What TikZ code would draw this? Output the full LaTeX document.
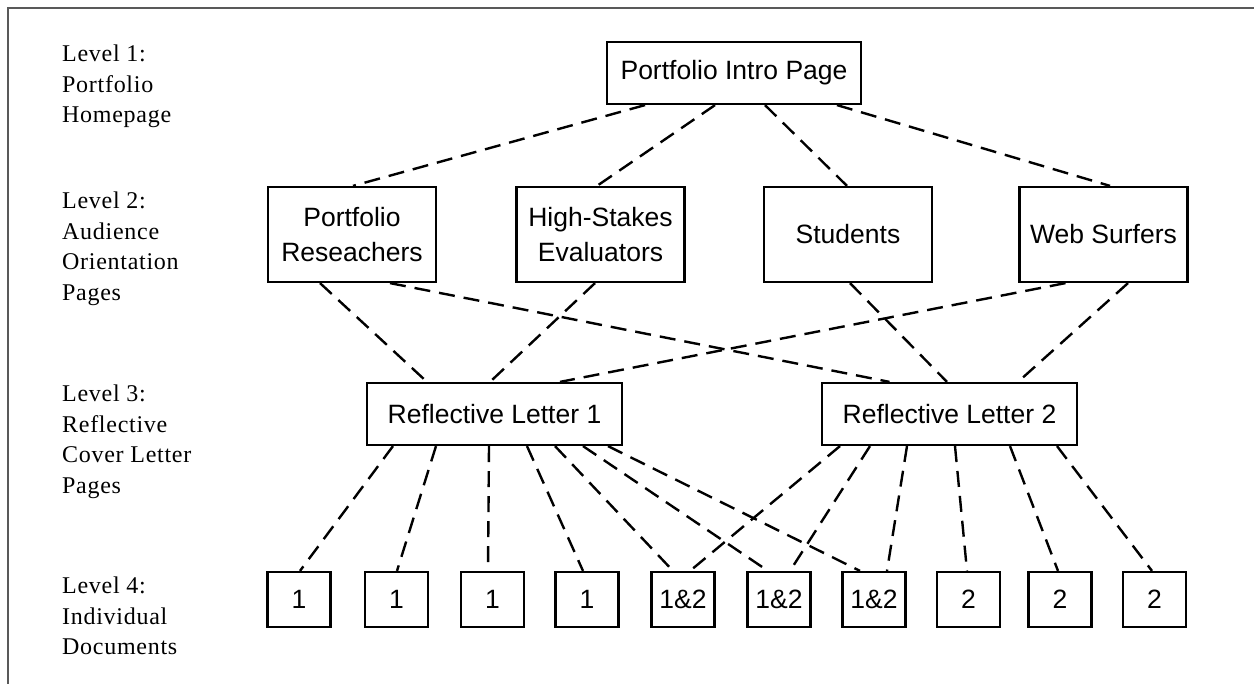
\documentclass[tikz,border=0pt]{standalone}
\usepackage{fontspec}
\setmainfont{Liberation Serif}
\newfontfamily\nodefont{Liberation Sans}
\begin{document}
\begin{tikzpicture}[x=1pt,y=-1pt,
  box/.style={draw, line width=2.2pt, inner sep=0pt, align=center,
    font=\nodefont\fontsize{26.5}{35}\selectfont},
  big/.style={box, minimum height=62pt},
  mid/.style={box, minimum width=168pt, minimum height=95pt},
  doc/.style={box, minimum width=63pt, minimum height=55pt},
  conn/.style={line width=2.4pt, dash pattern=on 16pt off 9pt},
  lvl/.style={anchor=north west, inner sep=0pt, align=left,
    font=\fontsize{24}{30.5}\selectfont\addfontfeature{LetterSpace=3}}]
\useasboundingbox (0,0) rectangle (1254,684);
\draw[black!65, line width=2pt] (8,684) -- (8,8) -- (1254,8);

% level labels
\node[lvl] (l1) at (62,45) {Level 1:\\Portfolio\\Homepage};
\node[lvl] (l2) at (62,192) {Level 2:\\Audience\\Orientation\\Pages};
\node[lvl] (l3) at (62,385) {Level 3:\\Reflective\\Cover Letter\\Pages};
\node[lvl] (l4) at (62,577) {Level 4:\\Individual\\Documents};

% level 1
\node[big, minimum width=254pt] (intro) at (734,73) {Portfolio Intro Page};
% level 2
\node[mid] (pr) at (352,234.5) {Portfolio\\Reseachers};
\node[mid] (hs) at (600.5,234.5) {High-Stakes\\Evaluators};
\node[mid] (st) at (848,234.5) {Students};
\node[mid] (ws) at (1103.5,234.5) {Web Surfers};
% level 3
\node[big, minimum width=255pt] (rl1) at (494.5,414) {Reflective Letter 1};
\node[big, minimum width=255pt] (rl2) at (949.5,414) {Reflective Letter 2};
% level 4
\node[doc] (d1) at (299,599.5) {1};
\node[doc] (d2) at (396.5,599.5) {1};
\node[doc] (d3) at (492.5,599.5) {1};
\node[doc] (d4) at (587,599.5) {1};
\node[doc] (d5) at (683,599.5) {1\&2};
\node[doc] (d6) at (779,599.5) {1\&2};
\node[doc] (d7) at (874,599.5) {1\&2};
\node[doc] (d8) at (968.5,599.5) {2};
\node[doc] (d9) at (1060,599.5) {2};
\node[doc] (d10) at (1154.5,599.5) {2};

% level 1 -> 2
\draw[conn] ([xshift=-89pt]intro.south) -- ([xshift=1pt]pr.north);
\draw[conn] ([xshift=-19pt]intro.south) -- ([xshift=-3.5pt]hs.north);
\draw[conn] ([xshift=31pt]intro.south) -- ([xshift=-1pt]st.north);
\draw[conn] ([xshift=103pt]intro.south) -- ([xshift=6.5pt]ws.north);

% level 2 -> 3
\draw[conn] ([xshift=-32pt]pr.south) -- ([xshift=-67.5pt]rl1.north);
\draw[conn] ([xshift=38pt]pr.south) -- ([xshift=-60pt]rl2.north);
\draw[conn] ([xshift=-5.5pt]hs.south) -- ([xshift=-4.5pt]rl1.north);
\draw[conn] ([xshift=2pt]st.south) -- ([xshift=-2.5pt]rl2.north);
\draw[conn] ([xshift=-38pt]ws.south) -- ([xshift=65.5pt]rl1.north);
\draw[conn] ([xshift=24.5pt]ws.south) -- ([xshift=68.5pt]rl2.north);

% level 3 -> 4
\draw[conn] ([xshift=-101.5pt]rl1.south) -- ([xshift=1pt]d1.north);
\draw[conn] ([xshift=-58.5pt]rl1.south) -- ([xshift=0.5pt]d2.north);
\draw[conn] ([xshift=-5.5pt]rl1.south) -- ([xshift=-4.5pt]d3.north);
\draw[conn] ([xshift=32.5pt]rl1.south) -- ([xshift=-4pt]d4.north);
\draw[conn] ([xshift=60.5pt]rl1.south) -- ([xshift=-10pt]d5.north);
\draw[conn] ([xshift=88.5pt]rl1.south) -- ([xshift=-11pt]d6.north);
\draw[conn] ([xshift=113.5pt]rl1.south) -- ([xshift=-14pt]d7.north);
\draw[conn] ([xshift=-109.5pt]rl2.south) -- ([xshift=7pt]d5.north);
\draw[conn] ([xshift=-79.5pt]rl2.south) -- ([xshift=11pt]d6.north);
\draw[conn] ([xshift=-42.5pt]rl2.south) -- ([xshift=13pt]d7.north);
\draw[conn] ([xshift=5.5pt]rl2.south) -- ([xshift=-1.5pt]d8.north);
\draw[conn] ([xshift=60.5pt]rl2.south) -- ([xshift=-2pt]d9.north);
\draw[conn] ([xshift=107.5pt]rl2.south) -- ([xshift=-2.5pt]d10.north);
\end{tikzpicture}
\end{document}
